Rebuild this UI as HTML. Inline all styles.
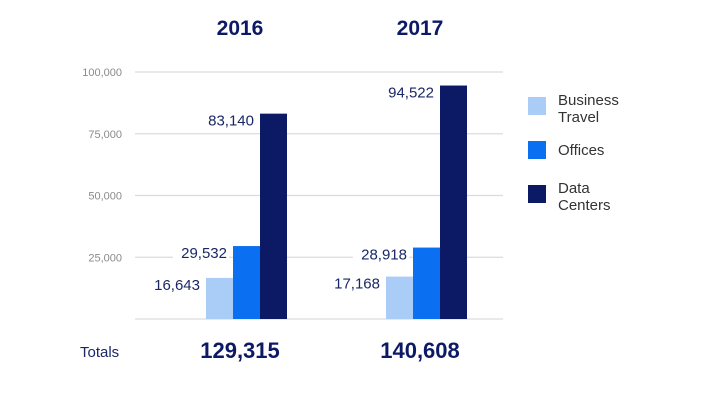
<!DOCTYPE html>
<html><head><meta charset="utf-8"><style>
body{margin:0;background:#fff;width:710px;height:400px;overflow:hidden;font-family:"Liberation Sans",sans-serif}
</style></head><body>
<svg id="chart" width="710" height="400" xmlns="http://www.w3.org/2000/svg" font-family="Liberation Sans, sans-serif"></svg>
<script>
const years = ["2016","2017"];
const businessTravel = [16643,17168];
const offices = [29532,28918];
const dataCenters = [83140,94522];
const totals = ["129,315","140,608"];
const tickValues = [25000,50000,75000,100000];
const tickLabels = ["25,000","50,000","75,000","100,000"];
const seriesNames = ["Business Travel","Offices","Data Centers"];
const colors = ["#a9cdf7","#0a6ff0","#0c1a66"];
const svg = document.getElementById('chart');
const NS = "http://www.w3.org/2000/svg";
function y(v){return 319 - v/100000*247;}
function groupX(i){return 206 + i*180;}
function mk(tag, attrs, text){const e=document.createElementNS(NS,tag);for(const k in attrs)e.setAttribute(k,attrs[k]);if(text!==undefined)e.textContent=text;svg.appendChild(e);return e;}
// grid
[0,...tickValues].forEach((v,i)=>{
  const l=mk('line',{x1:135,x2:503,y1:y(v),y2:y(v),stroke:'#dcdcdc','stroke-width':1.2});
  
  
});
tickValues.forEach((v,i)=>{
  const t=mk('text',{x:122,y:y(v)+4,'text-anchor':'end','font-size':11,fill:'#8a8a8a'},tickLabels[i]);
  
  
});
const series=[businessTravel,offices,dataCenters];
years.forEach((yr,i)=>{
  const gx=groupX(i);
  const title=mk('text',{x:gx+34,y:35,'text-anchor':'middle','font-size':21,'font-weight':'bold',fill:'#0c1a66'},yr);
  
  
  series.forEach((s,j)=>{
    const bx=gx+j*27;
    const r=mk('rect',{x:bx,y:y(s[i]),width:27,height:319-y(s[i]),fill:colors[j]});
    
    
    const txt=s[i].toLocaleString('en-US');
    const bg=mk('rect',{x:bx-60,y:y(s[i])-2,width:56,height:18,fill:'#fff'});
    
    
    const lt=mk('text',{x:bx-6,y:y(s[i])+12,'text-anchor':'end','font-size':15,fill:'#1a2766'},txt);
    
    
  });
  const tt=mk('text',{x:gx+34,y:358,'text-anchor':'middle','font-size':22,'font-weight':'bold',fill:'#0c1a66'},totals[i]);
  
  
});
const tl=mk('text',{x:80,y:357,'font-size':15,fill:'#1a2766'},'Totals');


// legend
const legY=[97,141,185];
seriesNames.forEach((n,j)=>{
  const sq=mk('rect',{x:528,y:legY[j],width:18,height:18,fill:colors[j]});
  
  
  const words=n.split(' ');
  const t=mk('text',{x:558,y:legY[j]+8,'font-size':15,fill:'#333'});
  
  
  if(words.length===1){t.setAttribute('y',legY[j]+14);t.textContent=n;}
  else words.forEach((w,k)=>{const ts=document.createElementNS(NS,'tspan');ts.setAttribute('x',558);ts.setAttribute('dy',k===0?0:17);ts.textContent=w;t.appendChild(ts);});
});
</script>
</body></html>
